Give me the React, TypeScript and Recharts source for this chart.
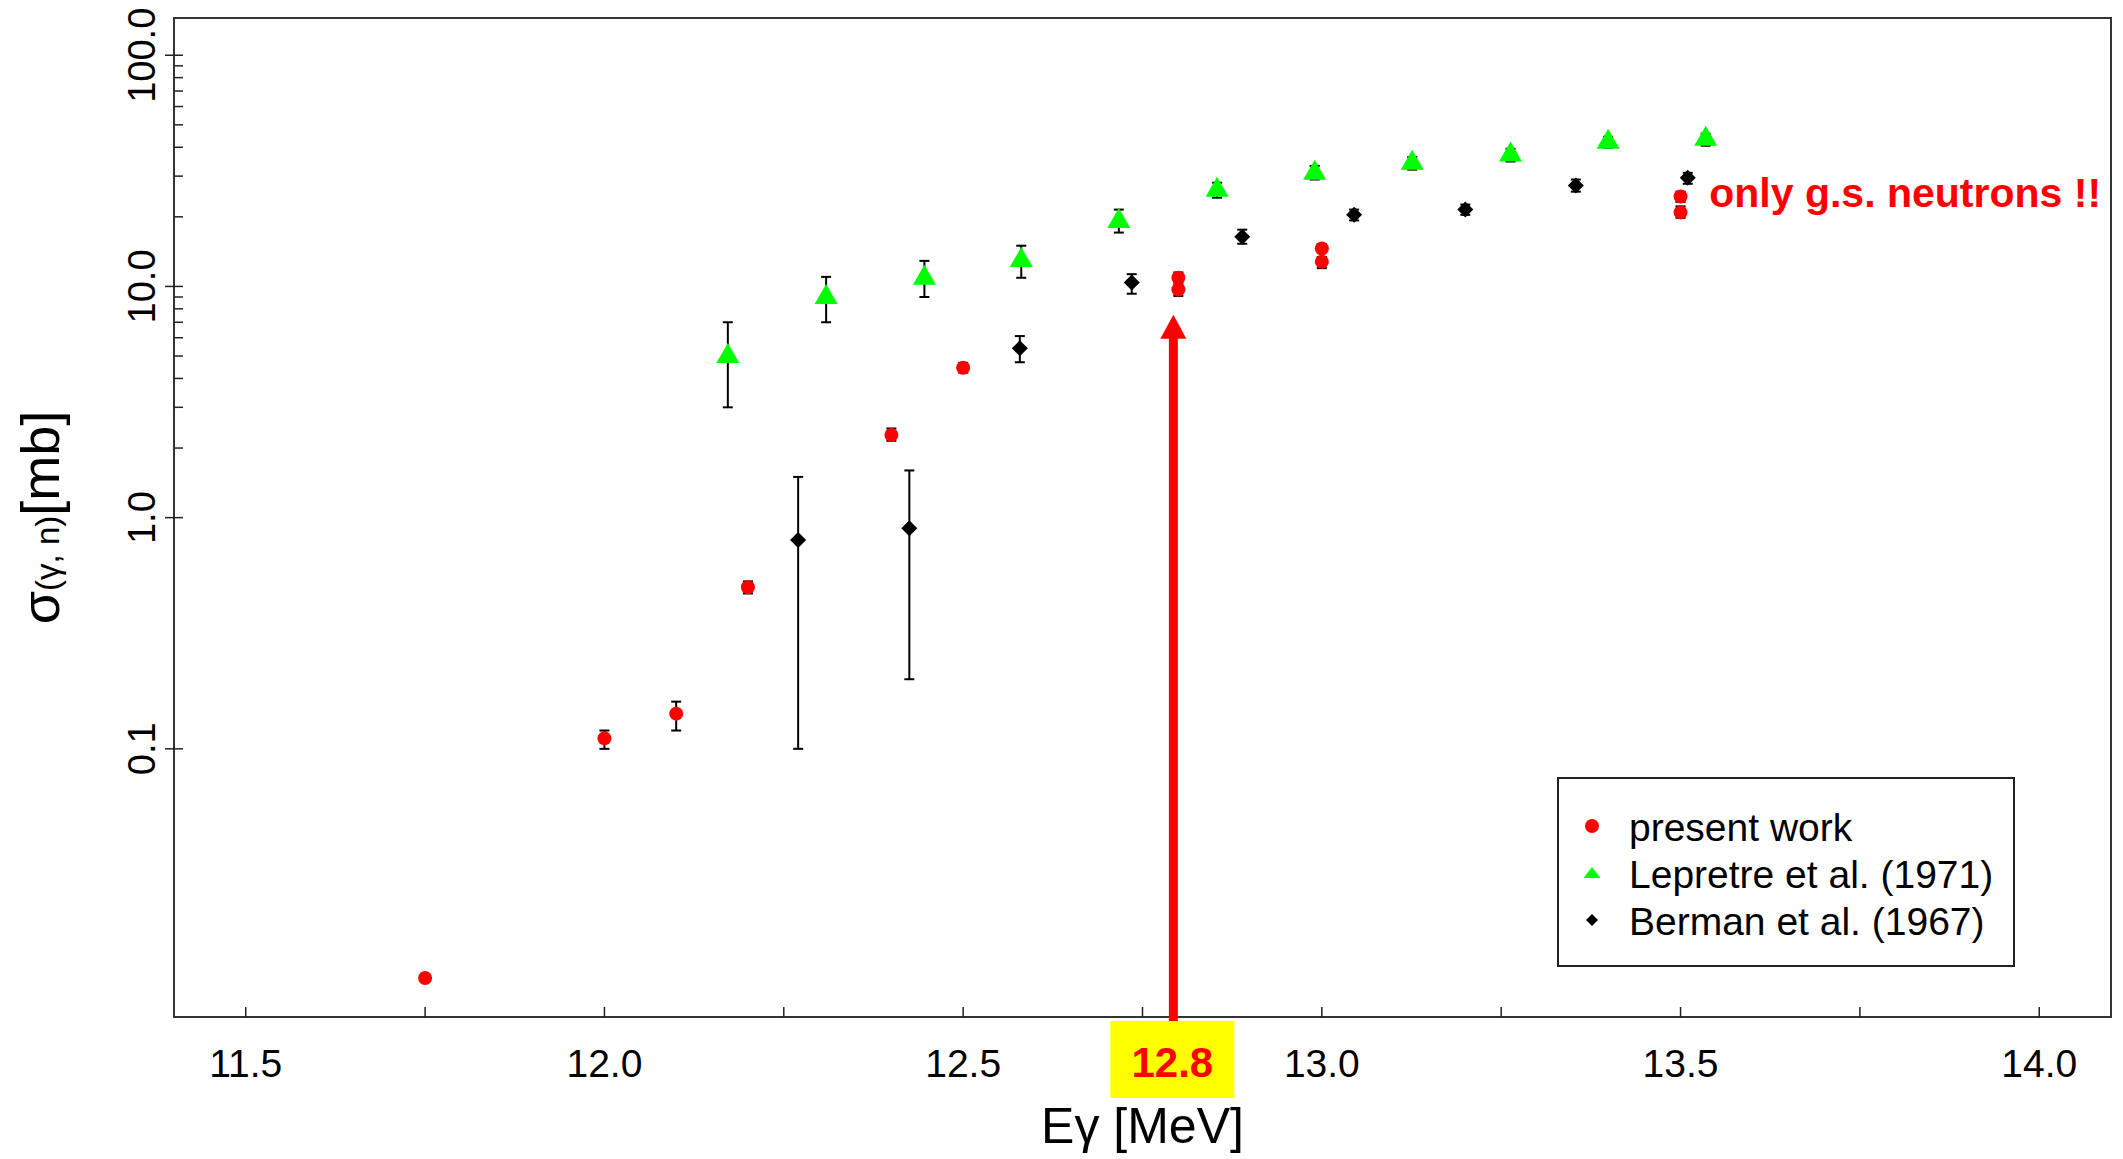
import React from 'react';
import {
  ScatterChart,
  Scatter,
  XAxis,
  YAxis,
  ErrorBar,
  ReferenceLine,
  ReferenceDot,
  ReferenceArea,
  Legend,
} from 'recharts';

const FONT = '"Liberation Sans", Arial, Helvetica, sans-serif';

// axes
const xDomain = [11.4, 14.1];
const yDomain = [0.00692, 144.9];
const xTicks = [11.5, 11.75, 12.0, 12.25, 12.5, 12.75, 13.0, 13.25, 13.5, 13.75, 14.0];
const xTickLabels: Record<string, string> = {
  '11.5': '11.5', '12': '12.0', '12.5': '12.5', '13': '13.0', '13.5': '13.5', '14': '14.0',
};
const yMajor = [0.1, 1, 10, 100];
const yMajorLabels = ['0.1', '1.0', '10.0', '100.0'];
const yMinor = [2, 3, 4, 5, 6, 7, 8, 9, 20, 30, 40, 50, 60, 70, 80, 90];

// annotation
const markedEnergy = 12.8;
const arrowTip = 7.55;
const noteE = 13.54;
const noteSigma = 22.1;

// present work
const pwE = [11.75, 12.0, 12.1, 12.2, 12.4, 12.5, 12.8, 12.8, 13.0, 13.0, 13.5, 13.5];
const pwSigma = [0.0102, 0.111, 0.142, 0.5, 2.28, 4.45, 10.9, 9.7, 14.6, 12.8, 24.5, 20.9];
const pwLow = [null, 0.1, 0.12, 0.47, 2.15, 4.24, 10.4, 9.1, 13.4, 12.0, 23.2, 19.8];
const pwHigh = [null, 0.12, 0.16, 0.53, 2.43, 4.67, 11.5, 10.2, 15.2, 13.4, 25.7, 22.2];

// Lepretre et al. (1971)
const lepE = [12.172, 12.309, 12.446, 12.581, 12.717, 12.854, 12.99, 13.126, 13.263, 13.399, 13.535];
const lepSigma = [5.0, 9.0, 10.9, 13.0, 19.2, 26.2, 31.0, 34.3, 37.2, 42.3, 43.5];
const lepLow = [3.0, 7.0, 9.0, 10.9, 17.1, 24.2, 29.0, 32.0, 34.7, 39.8, 40.6];
const lepHigh = [7.0, 11.0, 12.9, 15.0, 21.5, 28.1, 33.2, 36.3, 39.4, 44.4, 45.8];

// Berman et al. (1967)
const bermE = [12.27, 12.425, 12.579, 12.735, 12.889, 13.045, 13.2, 13.354, 13.51];
const bermSigma = [0.8, 0.9, 5.4, 10.4, 16.4, 20.4, 21.5, 27.3, 29.5];
const bermLow = [0.1, 0.2, 4.7, 9.3, 15.3, 19.3, 20.4, 25.7, 27.8];
const bermHigh = [1.5, 1.6, 6.1, 11.3, 17.6, 21.5, 22.6, 29.0, 31.0];

const points = (e: number[], s: number[]) => e.map((x, i) => ({ x, y: s[i] }));
const errPoints = (e: number[], s: number[], lo: (number | null)[], hi: (number | null)[]) =>
  e
    .map((x, i) => ({ x, y: s[i], lo: lo[i], hi: hi[i] }))
    .filter((p) => p.lo != null && p.hi != null)
    .map((p) => ({ x: p.x, y: p.y, err: [p.y - (p.lo as number), (p.hi as number) - p.y] }));

const RED = '#ff0000';
const GREEN = '#00ff00';

const RedDot = ({ cx, cy }: any) => <circle cx={cx} cy={cy} r={7} fill={RED} />;
const GreenTri = ({ cx, cy }: any) => (
  <path d={`M${cx},${cy - 13} L${cx + 11.5},${cy + 7} L${cx - 11.5},${cy + 7} Z`} fill={GREEN} />
);
const BlackDiamond = ({ cx, cy }: any) => (
  <path d={`M${cx},${cy - 8} L${cx + 8},${cy} L${cx},${cy + 8} L${cx - 8},${cy} Z`} fill="#000" />
);
const Nothing = () => <g />;

const XTick = ({ x, y, payload }: any) => {
  const v = payload.value;
  if (Math.abs(v - markedEnergy) < 1e-6) {
    const cx = x - 6;
    return (
      <g>
        <rect x={cx - 62} y={y + 4} width={124} height={77} fill="#ffff00" />
        <text x={cx} y={y + 60} textAnchor="middle" fontFamily={FONT} fontWeight="bold" fontSize={42} fill={RED}>
          {v.toFixed(1)}
        </text>
      </g>
    );
  }
  const label = xTickLabels[String(v)];
  return (
    <g>
      <line x1={x} x2={x} y1={y} y2={y - 10} stroke="#222" strokeWidth={1.5} />
      {label && (
        <text x={x} y={y + 60} textAnchor="middle" fontFamily={FONT} fontSize={39} fill="#000">
          {label}
        </text>
      )}
    </g>
  );
};

const YTick = ({ x, y, payload }: any) => {
  const idx = yMajor.indexOf(payload.value);
  if (idx < 0) {
    return <line x1={x} x2={x + 9} y1={y} y2={y} stroke="#222" strokeWidth={1.5} />;
  }
  const tx = x - 19;
  return (
    <g>
      <line x1={x - 9} x2={x + 9} y1={y} y2={y} stroke="#222" strokeWidth={1.5} />
      <text x={tx} y={y} transform={`rotate(-90 ${tx} ${y})`} textAnchor="middle" fontFamily={FONT} fontSize={38} fill="#000">
        {yMajorLabels[idx]}
      </text>
    </g>
  );
};

const XLabel = ({ viewBox }: any) => {
  const cx = viewBox.x + viewBox.width / 2;
  return (
    <text x={cx} y={viewBox.y + 126} textAnchor="middle" fontFamily={FONT} fontSize={50} fill="#000">
      Eγ [MeV]
    </text>
  );
};

const YLabel = ({ viewBox }: any) => {
  const cy = viewBox.y + viewBox.height / 2;
  const bx = 59;
  return (
    <text x={bx} y={cy} transform={`rotate(-90 ${bx} ${cy})`} textAnchor="middle" fontFamily={FONT} fontSize={54} fill="#000">
      <tspan>σ</tspan>
      <tspan fontSize={33}>(γ, n)</tspan>
      <tspan>[mb]</tspan>
    </text>
  );
};

const Arrow = (p: any) => {
  const x = (p.x1 + p.x2) / 2 - 5;
  const yBottom = Math.max(p.y1, p.y2) + 4;
  const yTip = Math.min(p.y1, p.y2);
  const headBase = yTip + 24;
  return (
    <g>
      <rect x={x - 4.5} y={headBase - 1} width={9} height={yBottom - headBase + 1} fill={RED} />
      <path d={`M${x},${yTip} L${x + 13},${headBase} L${x - 13},${headBase} Z`} fill={RED} />
    </g>
  );
};

const Note = ({ cx, cy }: any) => (
  <text x={cx} y={cy} fontFamily={FONT} fontWeight="bold" fontSize={41} fill={RED}>
    only g.s. neutrons !!
  </text>
);

const legendItems = [
  { name: 'present work', icon: 'dot' },
  { name: 'Lepretre et al. (1971)', icon: 'tri' },
  { name: 'Berman et al. (1967)', icon: 'diamond' },
];

const LegendBox = () => (
  <svg width={458} height={190} style={{ display: 'block', background: '#fff' }}>
    <rect x={1} y={1} width={456} height={188} fill="#fff" stroke="#222" strokeWidth={2} />
    {legendItems.map((it, i) => {
      const my = 49 + i * 47;
      const by = 64 + i * 47;
      return (
        <g key={it.name}>
          {it.icon === 'dot' && <circle cx={35} cy={my} r={7} fill={RED} />}
          {it.icon === 'tri' && <path d={`M35,${my - 6} L43.5,${my + 5} L26.5,${my + 5} Z`} fill={GREEN} />}
          {it.icon === 'diamond' && <path d={`M35,${my - 6} L41,${my} L35,${my + 6} L29,${my} Z`} fill="#000" />}
          <text x={72} y={by} fontFamily={FONT} fontSize={39} fill="#000">
            {it.name}
          </text>
        </g>
      );
    })}
  </svg>
);

export default function App() {
  return (
    <div style={{ position: 'absolute', left: 0, top: 0, background: '#fff' }}>
      <ScatterChart width={2123} height={1159} margin={{ top: 18, right: 12, left: 0, bottom: 0 }}>
        <XAxis
          type="number"
          dataKey="x"
          domain={xDomain}
          allowDataOverflow
          ticks={[...xTicks, markedEnergy]}
          interval={0}
          tick={<XTick />}
          tickLine={false}
          tickSize={0}
          tickMargin={0}
          axisLine={false}
          height={142}
          label={<XLabel />}
        />
        <YAxis
          type="number"
          dataKey="y"
          scale="log"
          domain={yDomain}
          allowDataOverflow
          ticks={[...yMajor, ...yMinor]}
          interval={0}
          tick={<YTick />}
          tickLine={false}
          tickSize={0}
          tickMargin={0}
          axisLine={false}
          width={174}
          label={<YLabel />}
        />
        <ReferenceArea
          x1={xDomain[0]}
          x2={xDomain[1]}
          y1={yDomain[0]}
          y2={yDomain[1]}
          fill="none"
          stroke="#333"
          strokeWidth={2}
          ifOverflow="visible"
        />
        <Legend
          layout="vertical"
          align="center"
          verticalAlign="middle"
          wrapperStyle={{ left: 1557, top: 777, width: 458, height: 190 }}
          content={() => <LegendBox />}
        />
        <Scatter name="present work" data={points(pwE, pwSigma)} shape={<RedDot />} isAnimationActive={false} />
        <Scatter name="Lepretre et al. (1971)" data={points(lepE, lepSigma)} shape={<GreenTri />} isAnimationActive={false} />
        <Scatter name="Berman et al. (1967)" data={points(bermE, bermSigma)} shape={<BlackDiamond />} isAnimationActive={false} />
        <Scatter data={errPoints(pwE, pwSigma, pwLow, pwHigh)} shape={<Nothing />} legendType="none" isAnimationActive={false}>
          <ErrorBar dataKey="err" direction="y" width={5} stroke="#000" strokeWidth={2} isAnimationActive={false} />
        </Scatter>
        <Scatter data={errPoints(lepE, lepSigma, lepLow, lepHigh)} shape={<Nothing />} legendType="none" isAnimationActive={false}>
          <ErrorBar dataKey="err" direction="y" width={5} stroke="#000" strokeWidth={2} isAnimationActive={false} />
        </Scatter>
        <Scatter data={errPoints(bermE, bermSigma, bermLow, bermHigh)} shape={<Nothing />} legendType="none" isAnimationActive={false}>
          <ErrorBar dataKey="err" direction="y" width={5} stroke="#000" strokeWidth={2} isAnimationActive={false} />
        </Scatter>
        <ReferenceLine
          segment={[
            { x: markedEnergy, y: yDomain[0] },
            { x: markedEnergy, y: arrowTip },
          ]}
          ifOverflow="visible"
          shape={(p: any) => <Arrow {...p} />}
        />
        <ReferenceDot x={noteE} y={noteSigma} r={0} ifOverflow="visible" shape={(p: any) => <Note {...p} />} />
      </ScatterChart>
    </div>
  );
}
